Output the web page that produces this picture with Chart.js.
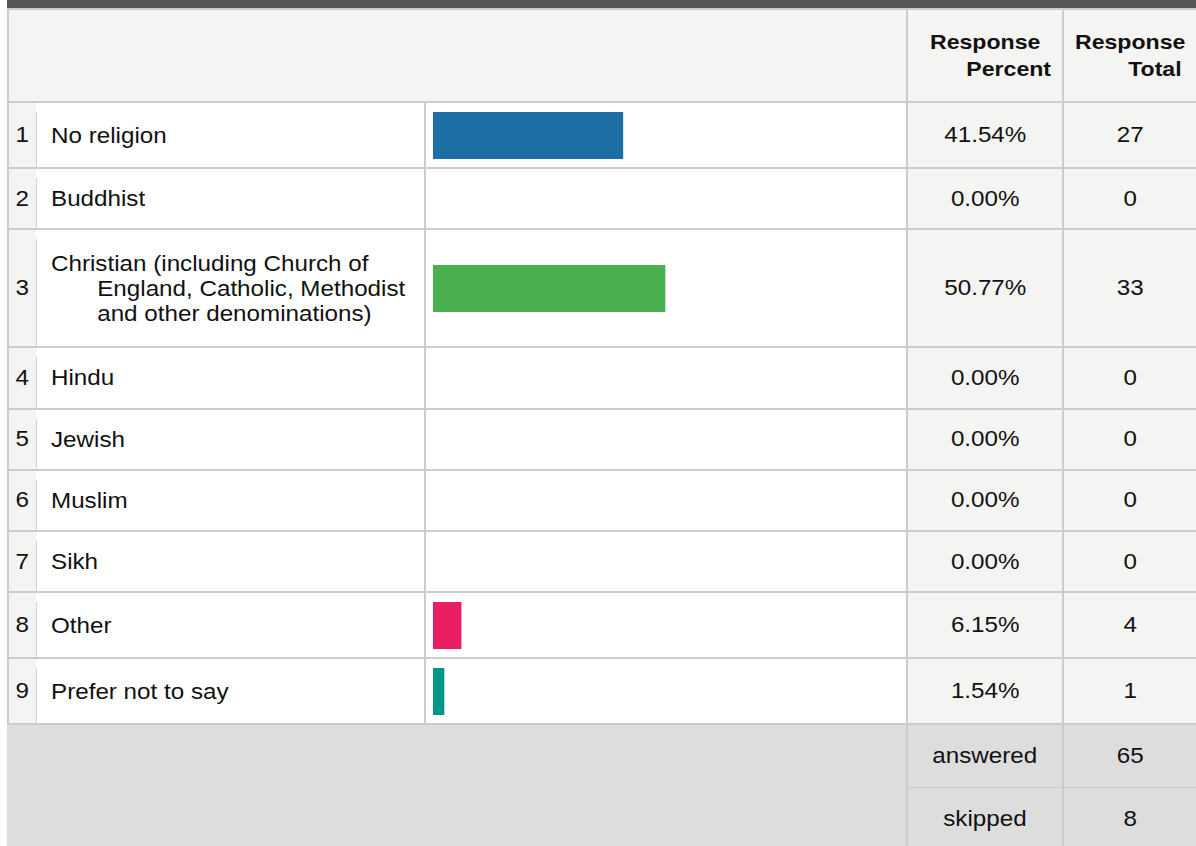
<!DOCTYPE html>
<html>
<head>
<meta charset="utf-8">
<script src="https://cdn.jsdelivr.net/npm/chart.js@4.4.1/dist/chart.umd.min.js"></script>
<style>
html,body{margin:0;padding:0;background:#fff;}
body{font-family:"Liberation Sans",Arial,Helvetica,sans-serif;color:#111;width:1196px;height:846px;overflow:hidden;position:relative;}
#wrap{position:absolute;left:7px;top:0;width:1189px;}
#topbar{height:8px;background:#555555;}
#tbl{border-top:2px solid #cccccc;}
.row{display:flex;box-sizing:border-box;border-bottom:2px solid #cccccc;border-left:2px solid #cccccc;}
.cell{box-sizing:border-box;position:relative;display:flex;align-items:center;}
.num{width:27px;background:#f4f4f2;justify-content:center;font-size:22px;}
.lab{width:390px;border-right:2px solid #cccccc;background:#fff;font-size:22px;line-height:25px;padding:0 10px 0 15px;}
.lab::before{content:"";position:absolute;left:0;top:9px;bottom:0;width:1px;background:#d2d2d2;}
.ltxt{width:330px;box-sizing:border-box;padding-left:42px;text-indent:-42px;transform:scaleX(1.1);transform-origin:left center;}
.bar{width:482px;border-right:2px solid #cccccc;background:#fff;padding-left:7px;}
.chartbox{position:relative;width:457px;height:47px;}
.pct{width:156px;border-right:2px solid #cccccc;background:#f4f4f2;justify-content:center;font-size:22px;}
.tot{width:132px;background:#f4f4f2;justify-content:center;font-size:22px;}
.sx{display:inline-block;transform:scaleX(1.1);transform-origin:center;white-space:nowrap;}
.head .cell{background:#f4f4f2;}
.hmain{width:899px;border-right:2px solid #cccccc;}
.hcol{flex-direction:column;justify-content:center;align-items:stretch;font-weight:bold;font-size:21px;line-height:26.6px;}
.hcol div{display:block;}
.hl1{text-align:center;}
.hl1 .sx{transform-origin:center;}
.hl2{text-align:right;}
.hl2 .sx{transform-origin:right center;}
.pct.hcol .hl2{padding-right:11px;}
.tot.hcol .hl2{padding-right:14px;}
#foot{display:flex;background:#dddddd;height:125px;}
#fleft{width:901px;box-sizing:border-box;border-right:2px solid #cccccc;}
#fright{display:flex;flex-direction:column;}
.frow{display:flex;box-sizing:border-box;height:62px;}
.frow.first{height:63px;border-bottom:1px solid #cccccc;}
.frow .pct,.frow .tot{background:#dddddd;}
</style>
</head>
<body>
<div id="wrap">
  <div id="topbar"></div>
  <div id="tbl"></div>
  <div id="foot">
    <div id="fleft"></div>
    <div id="fright"></div>
  </div>
</div>
<script>
const headerPercent = ["Response", "Percent"];
const headerTotal = ["Response", "Total"];
const categories = [
  "No religion",
  "Buddhist",
  "Christian (including Church of England, Catholic, Methodist and other denominations)",
  "Hindu",
  "Jewish",
  "Muslim",
  "Sikh",
  "Other",
  "Prefer not to say"
];
const percents = [41.54, 0.00, 50.77, 0.00, 0.00, 0.00, 0.00, 6.15, 1.54];
const totals = [27, 0, 33, 0, 0, 0, 0, 4, 1];
const summaryLabels = ["answered", "skipped"];
const summaryValues = [65, 8];
const barColors = ["#1c6ea4", "#ef6c00", "#4caf50", "#9c27b0", "#ff9800", "#795548", "#607d8b", "#e91e63", "#009688"];

const tbl = document.getElementById('tbl');

function sxSpan(text) {
  const s = document.createElement('span');
  s.className = 'sx';
  s.textContent = text;
  return s;
}

// header
const head = document.createElement('div');
head.className = 'row head';
head.style.height = '93px';
const hm = document.createElement('div'); hm.className = 'cell hmain'; head.appendChild(hm);
[[headerPercent, 'pct'], [headerTotal, 'tot']].forEach(([lines, cls]) => {
  const c = document.createElement('div');
  c.className = 'cell hcol ' + cls;
  lines.forEach((ln, k) => {
    const d = document.createElement('div');
    d.className = k === 0 ? 'hl1' : 'hl2';
    d.appendChild(sxSpan(ln));
    c.appendChild(d);
  });
  head.appendChild(c);
});
tbl.appendChild(head);

const canvases = [];
const rows = [];
categories.forEach((cat, i) => {
  const r = document.createElement('div');
  r.className = 'row body';
  r.style.minHeight = (percents[i] > 0 ? 66 : 61.25) + 'px';
  const n = document.createElement('div'); n.className = 'cell num'; n.appendChild(sxSpan(String(i + 1))); r.appendChild(n);
  const l = document.createElement('div'); l.className = 'cell lab';
  const lt = document.createElement('div'); lt.className = 'ltxt'; lt.textContent = cat; l.appendChild(lt); r.appendChild(l);
  const b = document.createElement('div'); b.className = 'cell bar';
  const box = document.createElement('div'); box.className = 'chartbox';
  const cv = document.createElement('canvas'); box.appendChild(cv); b.appendChild(box); r.appendChild(b);
  canvases.push(cv);
  const p = document.createElement('div'); p.className = 'cell pct'; p.appendChild(sxSpan(percents[i].toFixed(2) + '%')); r.appendChild(p);
  const t = document.createElement('div'); t.className = 'cell tot'; t.appendChild(sxSpan(String(totals[i]))); r.appendChild(t);
  tbl.appendChild(r);
  rows.push([r, lt]);
});
rows.forEach(([r, lt]) => {
  const h = lt.getBoundingClientRect().height;
  if (h > 30) r.style.minHeight = (h + 43) + 'px';
});

// footer
const fr = document.getElementById('fright');
summaryLabels.forEach((lab, k) => {
  const d = document.createElement('div');
  d.className = 'frow' + (k === 0 ? ' first' : '');
  const p = document.createElement('div'); p.className = 'cell pct'; p.appendChild(sxSpan(lab)); d.appendChild(p);
  const t = document.createElement('div'); t.className = 'cell tot'; t.appendChild(sxSpan(String(summaryValues[k]))); d.appendChild(t);
  fr.appendChild(d);
});

canvases.forEach((cv, i) => {
  new Chart(cv, {
    type: 'bar',
    data: {
      labels: [categories[i]],
      datasets: [{
        data: [percents[i]],
        backgroundColor: percents[i] > 0 ? barColors[i] : 'rgba(0,0,0,0)',
        borderWidth: 0,
        barPercentage: 1,
        categoryPercentage: 1,
        minBarLength: percents[i] > 0 ? 11 : 0
      }]
    },
    options: {
      indexAxis: 'y',
      responsive: true,
      maintainAspectRatio: false,
      animation: false,
      events: [],
      layout: { padding: 0 },
      plugins: { legend: { display: false }, tooltip: { enabled: false } },
      scales: {
        x: { type: 'linear', min: 0, max: 100, display: false },
        y: { display: false }
      }
    }
  });
});
</script>
</body>
</html>
